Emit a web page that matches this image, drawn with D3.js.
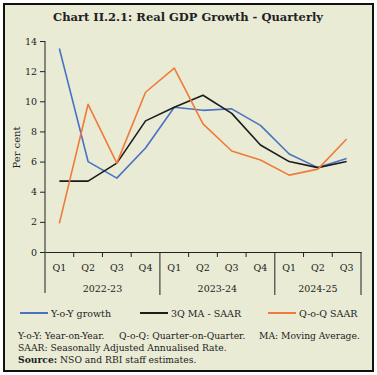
<!DOCTYPE html>
<html>
<head>
<meta charset="utf-8">
<script src="https://cdn.jsdelivr.net/npm/d3@7"></script>
<style>
  body { margin: 0; background: #fff; }
  text { font-family: "DejaVu Serif", serif; fill: #222; }
</style>
</head>
<body>
<svg id="chart" width="377" height="375"></svg>
<script>
const quarters = ["Q1", "Q2", "Q3", "Q4", "Q1", "Q2", "Q3", "Q4", "Q1", "Q2", "Q3"];
const years = ["2022-23", "2023-24", "2024-25"];
const yoyGrowth = [13.5, 6.0, 4.9, 6.9, 9.6, 9.4, 9.5, 8.4, 6.5, 5.6, 6.2];
const maSaar = [4.7, 4.7, 5.9, 8.7, 9.6, 10.4, 9.2, 7.1, 6.0, 5.6, 6.0];
const qoqSaar = [1.9, 9.8, 5.9, 10.6, 12.2, 8.5, 6.7, 6.1, 5.1, 5.5, 7.5];
const yTicks = [0, 2, 4, 6, 8, 10, 12, 14];

const series = [
  { name: "Y-o-Y growth", values: yoyGrowth, color: "#4a72c4" },
  { name: "3Q MA - SAAR", values: maSaar, color: "#1c1c1c" },
  { name: "Q-o-Q SAAR", values: qoqSaar, color: "#ef7b3a" }
];

const svg = d3.select("#chart");

// panel + border
svg.append("rect")
  .attr("x", 4).attr("y", 4)
  .attr("width", 369).attr("height", 367)
  .attr("fill", "#e9ebd5")
  .attr("stroke", "#111").attr("stroke-width", 2);

svg.append("text")
  .attr("x", 188).attr("y", 21)
  .attr("text-anchor", "middle")
  .style("font-size", "11.5px")
  .style("font-weight", "bold")
  .text("Chart II.2.1: Real GDP Growth - Quarterly");

const margin = { left: 45, top: 41 },
      width = 316, height = 211;

const g = svg.append("g").attr("transform", `translate(${margin.left},${margin.top})`);

const x = d3.scaleBand()
  .domain(d3.range(quarters.length))
  .range([0, width]);

const y = d3.scaleLinear()
  .domain([0, 14])
  .range([height, 0]);

// y axis
const yAxis = g.append("g")
  .call(d3.axisLeft(y).tickValues(yTicks).tickSize(5).tickSizeOuter(0));
yAxis.select(".domain").remove();
yAxis.selectAll("line").attr("stroke", "#222");
yAxis.selectAll("text").style("font-size", "9.5px").style("font-family", "DejaVu Serif, serif").attr("fill", "#222");
g.append("line")
  .attr("x1", 0).attr("x2", 0)
  .attr("y1", 0).attr("y2", height + 41)
  .attr("stroke", "#222");

g.append("text")
  .attr("transform", `translate(-25,${height / 2 + 1}) rotate(-90)`)
  .attr("text-anchor", "middle")
  .style("font-size", "10px")
  .text("Per cent");

// x axis
const xAxis = g.append("g")
  .attr("transform", `translate(0,${height})`)
  .call(d3.axisBottom(x).tickFormat(i => quarters[i]).tickSize(0).tickPadding(12));
xAxis.select(".domain").attr("stroke", "#222");
xAxis.selectAll("text").style("font-size", "9.5px").style("font-family", "DejaVu Serif, serif").attr("fill", "#222");

// minor ticks between quarters and year separators
d3.range(1, quarters.length + 1).forEach(i => {
  const xp = i < quarters.length ? x(i) : width;
  const isYear = i % 4 === 0 || i === quarters.length;
  g.append("line")
    .attr("x1", xp).attr("x2", xp)
    .attr("y1", height)
    .attr("y2", isYear ? height + 43 : height + 5)
    .attr("stroke", "#222");
});

years.forEach((yr, k) => {
  const start = k * 4;
  const end = Math.min(start + 4, quarters.length);
  const cx = (x(start) + (end < quarters.length ? x(end) : width)) / 2;
  g.append("text")
    .attr("x", cx).attr("y", height + 40)
    .attr("text-anchor", "middle")
    .style("font-size", "9.5px")
    .text(yr);
});

// lines
const line = d3.line()
  .x((d, i) => x(i) + x.bandwidth() / 2)
  .y(d => y(d));

series.forEach(s => {
  g.append("path")
    .datum(s.values)
    .attr("fill", "none")
    .attr("stroke", s.color)
    .attr("stroke-width", 1.6)
    .attr("stroke-linejoin", "round")
    .attr("d", line);
});

// legend
const legendX = [20, 140, 268];
series.forEach((s, i) => {
  const lg = svg.append("g").attr("transform", `translate(${legendX[i]},313)`);
  lg.append("line")
    .attr("x1", 0).attr("x2", 28)
    .attr("stroke", s.color).attr("stroke-width", 2);
  lg.append("text")
    .attr("x", 31).attr("y", 3.5)
    .style("font-size", "9.5px")
    .text(s.name);
});

// notes
const notes = svg.append("g").style("font-size", "9.2px");
const n1 = notes.append("text").attr("y", 339);
n1.append("tspan").attr("x", 18).text("Y-o-Y: Year-on-Year.");
n1.append("tspan").attr("x", 119).text("Q-o-Q: Quarter-on-Quarter.");
n1.append("tspan").attr("x", 259).text("MA: Moving Average.");
notes.append("text").attr("x", 18).attr("y", 351)
  .text("SAAR: Seasonally Adjusted Annualised Rate.");
const src = notes.append("text").attr("x", 18).attr("y", 363);
src.append("tspan").style("font-weight", "bold").text("Source:");
src.append("tspan").text(" NSO and RBI staff estimates.");
</script>
</body>
</html>
